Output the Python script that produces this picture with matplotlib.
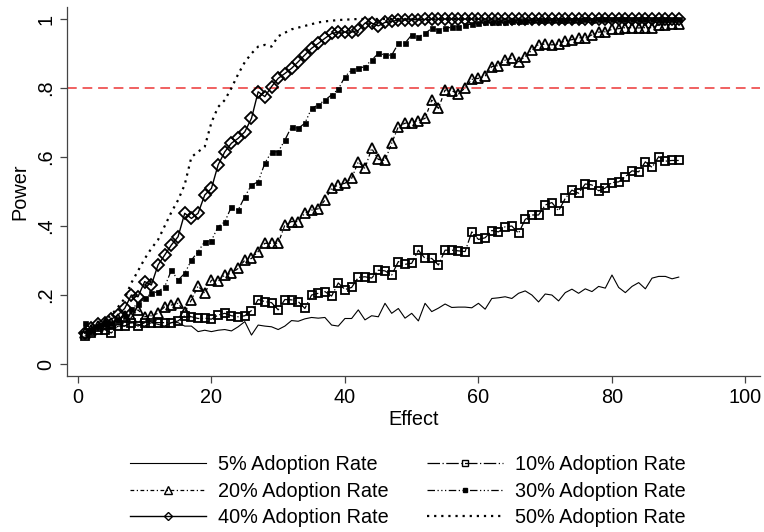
import numpy as np
import matplotlib
matplotlib.use("Agg")
import matplotlib.pyplot as plt
from matplotlib.lines import Line2D

plt.rcParams['font.family'] = ['Liberation Sans', 'DejaVu Sans']

effect = np.arange(1, 91)

p05 = [0.09, 0.10, 0.105, 0.11, 0.105, 0.115, 0.11, 0.12, 0.115, 0.11,
       0.12, 0.115, 0.11, 0.12, 0.12, 0.11, 0.11, 0.094, 0.098, 0.094,
       0.098, 0.10, 0.096, 0.108, 0.123, 0.084, 0.113, 0.11, 0.108, 0.10,
       0.11, 0.126, 0.124, 0.131, 0.135, 0.133, 0.135, 0.113, 0.11, 0.132,
       0.132, 0.157, 0.128, 0.14, 0.137, 0.176, 0.147, 0.161, 0.133, 0.147,
       0.125, 0.176, 0.152, 0.162, 0.174, 0.164, 0.165, 0.165, 0.163, 0.176,
       0.159, 0.19, 0.192, 0.195, 0.19, 0.205, 0.212, 0.20, 0.18, 0.203,
       0.20, 0.183, 0.207, 0.217, 0.205, 0.218, 0.21, 0.225, 0.22, 0.258,
       0.222, 0.207, 0.225, 0.236, 0.218, 0.249, 0.254, 0.254, 0.247, 0.252]

p10 = [0.08, 0.09, 0.10, 0.10, 0.09, 0.11, 0.11, 0.12, 0.11, 0.12,
       0.12, 0.12, 0.12, 0.12, 0.125, 0.14, 0.137, 0.132, 0.133, 0.13,
       0.142, 0.147, 0.14, 0.137, 0.14, 0.155, 0.187, 0.181, 0.178, 0.157,
       0.187, 0.186, 0.181, 0.161, 0.20, 0.205, 0.21, 0.197, 0.235, 0.216,
       0.222, 0.251, 0.253, 0.249, 0.272, 0.27, 0.258, 0.297, 0.289, 0.292,
       0.33, 0.306, 0.306, 0.287, 0.33, 0.33, 0.328, 0.326, 0.383, 0.361,
       0.366, 0.387, 0.383, 0.398, 0.40, 0.379, 0.419, 0.432, 0.432, 0.461,
       0.468, 0.444, 0.48, 0.504, 0.495, 0.522, 0.519, 0.502, 0.51, 0.526,
       0.528, 0.543, 0.56, 0.557, 0.586, 0.57, 0.601, 0.588, 0.59, 0.59]

p20 = [0.09, 0.10, 0.11, 0.115, 0.12, 0.13, 0.14, 0.135, 0.157, 0.137,
       0.14, 0.147, 0.166, 0.171, 0.176, 0.15, 0.186, 0.226, 0.205, 0.243,
       0.24, 0.258, 0.263, 0.277, 0.301, 0.306, 0.326, 0.35, 0.35, 0.35,
       0.403, 0.413, 0.413, 0.437, 0.446, 0.45, 0.475, 0.509, 0.519, 0.524,
       0.538, 0.586, 0.567, 0.625, 0.593, 0.59, 0.64, 0.688, 0.698, 0.70,
       0.705, 0.712, 0.765, 0.741, 0.794, 0.792, 0.783, 0.80, 0.825, 0.828,
       0.835, 0.862, 0.865, 0.881, 0.886, 0.876, 0.891, 0.91, 0.926, 0.927,
       0.925, 0.928, 0.937, 0.94, 0.946, 0.944, 0.954, 0.962, 0.963, 0.97,
       0.972, 0.975, 0.975, 0.974, 0.975, 0.975, 0.983, 0.983, 0.985, 0.985]

p30 = [0.12, 0.10, 0.11, 0.12, 0.12, 0.13, 0.14, 0.16, 0.175, 0.19,
       0.205, 0.21, 0.224, 0.272, 0.243, 0.263, 0.301, 0.326, 0.355, 0.358,
       0.398, 0.412, 0.456, 0.446, 0.485, 0.519, 0.528, 0.582, 0.615, 0.615,
       0.649, 0.688, 0.683, 0.698, 0.741, 0.751, 0.765, 0.78, 0.796, 0.833,
       0.852, 0.857, 0.862, 0.881, 0.90, 0.896, 0.895, 0.929, 0.93, 0.954,
       0.949, 0.958, 0.973, 0.968, 0.973, 0.976, 0.978, 0.983, 0.985, 0.988,
       0.99, 0.99, 0.992, 0.99, 0.993, 0.995, 0.994, 0.996, 0.996, 0.997,
       0.997, 0.998, 0.997, 0.998, 0.998, 0.999, 0.998, 0.999, 0.999, 0.999,
       1.0, 0.999, 1.0, 1.0, 1.0, 1.0, 1.0, 1.0, 1.0, 1.0]

p40 = [0.09, 0.105, 0.115, 0.12, 0.13, 0.142, 0.161, 0.20, 0.195, 0.239,
       0.229, 0.287, 0.316, 0.345, 0.369, 0.437, 0.422, 0.437, 0.49, 0.509,
       0.577, 0.615, 0.64, 0.654, 0.673, 0.712, 0.789, 0.775, 0.804, 0.828,
       0.842, 0.857, 0.876, 0.896, 0.915, 0.929, 0.944, 0.958, 0.962, 0.962,
       0.962, 0.967, 0.988, 0.988, 0.98, 0.99, 0.993, 0.997, 0.997, 0.998,
       0.998, 0.999, 0.999, 1.0, 1.0, 1.0, 1.0, 1.0, 1.0, 1.0,
       1.0, 1.0, 1.0, 1.0, 1.0, 1.0, 1.0, 1.0, 1.0, 1.0,
       1.0, 1.0, 1.0, 1.0, 1.0, 1.0, 1.0, 1.0, 1.0, 1.0,
       1.0, 1.0, 1.0, 1.0, 1.0, 1.0, 1.0, 1.0, 1.0, 1.0]

p50 = [0.09, 0.10, 0.11, 0.125, 0.142, 0.165, 0.19, 0.235, 0.27, 0.305,
       0.335, 0.36, 0.40, 0.44, 0.475, 0.52, 0.60, 0.615, 0.63, 0.70,
       0.745, 0.765, 0.80, 0.84, 0.875, 0.90, 0.92, 0.925, 0.92, 0.95,
       0.96, 0.97, 0.975, 0.98, 0.985, 0.99, 0.993, 0.995, 0.997, 0.998,
       0.999] + [1.0] * 49

labels = ['5% Adoption Rate', '10% Adoption Rate', '20% Adoption Rate',
          '30% Adoption Rate', '40% Adoption Rate', '50% Adoption Rate']

# line style per series: (linestyle, linewidth, marker, markersize, face)
styles = [
    ('-', 0.8, 'None', 0, 'none'),
    ((0, (10, 2, 1, 2)), 0.9, 's', 6.3, 'none'),
    ((0, (3, 2, 1, 2)), 0.9, '^', 7.0, 'none'),
    ((0, (6, 2, 1, 2, 1, 2, 1, 2)), 0.9, 's', 3.6, 'black'),
    ('-', 1.0, 'D', 5.8, 'none'),
    ((0, (1, 2.2)), 1.6, 'None', 0, 'none'),
]
series = [p05, p10, p20, p30, p40, p50]

fig = plt.figure(figsize=(7.64, 5.32), dpi=100)
ax = fig.add_axes([0.088, 0.293, 0.907, 0.694])

ax.axhline(0.8, color='#f06060', lw=1.4, ls=(0, (5, 3)), zorder=1)

for y, (ls, lw, mk, ms, fc) in zip(series, styles):
    ax.plot(effect, y, color='black', ls=ls, lw=lw, marker=mk, ms=ms,
            mfc=fc, mew=1.3 if fc == 'none' else 0.5)

ax.set_xlim(-1.6, 102.2)
ax.set_ylim(-0.035, 1.035)
ax.set_xticks([0, 20, 40, 60, 80, 100])
ax.set_yticks([0, 0.2, 0.4, 0.6, 0.8, 1.0])
ax.set_yticklabels(['0', '.2', '.4', '.6', '.8', '1'], rotation=90, va='center')
ax.tick_params(labelsize=14.3, length=5, width=0.9, color='#444444')
ax.spines['top'].set_visible(False)
ax.spines['right'].set_visible(False)
for s in ['left', 'bottom']:
    ax.spines[s].set_color('#444444')
    ax.spines[s].set_linewidth(0.9)
ax.set_xlabel('Effect', fontsize=14.3, labelpad=2)
ax.set_ylabel('Power', fontsize=14.3, labelpad=5)

# legend laid out row by row like the original (two columns)
order = [0, 2, 4, 1, 3, 5]
leg_handles = []
for i in order:
    ls, lw, mk, ms, fc = styles[i]
    leg_handles.append(Line2D([], [], color='black', ls=ls, lw=lw, marker=mk,
                              ms=ms * 0.75, mfc=fc, mew=1.0))
fig.legend(leg_handles, [labels[i] for i in order], ncol=2,
           loc='upper center', bbox_to_anchor=(0.534, 0.178), frameon=False,
           fontsize=14.3, handlelength=3.8, columnspacing=1.95,
           labelspacing=0.38, numpoints=1, handletextpad=0.6)

fig.savefig('out.png', dpi=100)
